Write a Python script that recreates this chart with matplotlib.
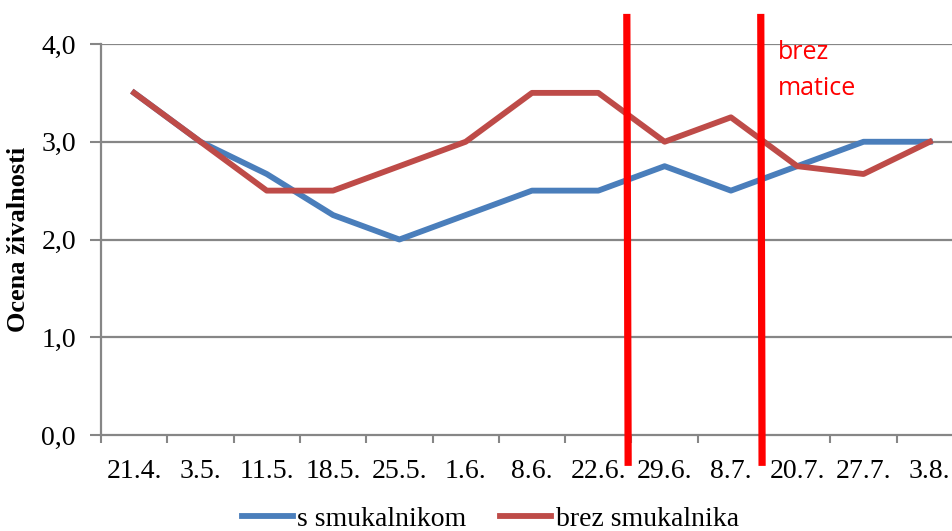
import matplotlib
matplotlib.use('agg')
import matplotlib.pyplot as plt
import matplotlib.transforms as mtransforms

# data
dates = ['21.4.', '3.5.', '11.5.', '18.5.', '25.5.', '1.6.', '8.6.',
         '22.6.', '29.6.', '8.7.', '20.7.', '27.7.', '3.8.']
s_smukalnikom = [3.5, 3.0, 2.67, 2.25, 2.0, 2.25, 2.5, 2.5, 2.75, 2.5, 2.75, 3.0, 3.0]
brez_smukalnika = [3.5, 3.0, 2.5, 2.5, 2.75, 3.0, 3.5, 3.5, 3.0, 3.25, 2.75, 2.67, 3.0]
y_ticks = [0.0, 1.0, 2.0, 3.0, 4.0]
y_labels = ['0,0', '1,0', '2,0', '3,0', '4,0']
marker_x = [7.43, 9.45]

fig = plt.figure(figsize=(9.52, 5.31), dpi=100)
ax = fig.add_axes([101 / 952, 1 - 435 / 531, 862 / 952, 391 / 531])

serif = 'Liberation Serif'
grid_col = '#868686'

x = list(range(len(dates)))
ax.plot(x, s_smukalnikom, color='#4A7EBB', lw=4.2, label='s smukalnikom',
        solid_joinstyle='round', zorder=3)
ax.plot(x, brez_smukalnika, color='#BE4B48', lw=4.2, label='brez smukalnika',
        solid_joinstyle='round', zorder=3)

ax.set_xlim(-0.5, len(dates) - 0.5)
ax.set_ylim(0, 4)
ax.set_yticks(y_ticks)
ax.set_yticklabels(y_labels, fontfamily=serif, fontsize=20)
ax.set_xticks(x)
ax.set_xticklabels(dates, fontfamily=serif, fontsize=20)
ax.set_xticks([i - 0.5 for i in range(len(dates) + 1)], minor=True)
ax.tick_params(axis='x', which='major', length=0, pad=17)
ax.tick_params(axis='x', which='minor', length=6, width=1.5, color=grid_col, direction='out')
ax.tick_params(axis='y', length=8, width=1.5, color=grid_col, pad=10)

for y in y_ticks[1:]:
    ax.axhline(y, color=grid_col, lw=1.6, zorder=1)
for side in ['top', 'right']:
    ax.spines[side].set_visible(False)
for side in ['left', 'bottom']:
    ax.spines[side].set_color(grid_col)
    ax.spines[side].set_linewidth(1.6)

ax.set_ylabel('Ocena živalnosti', fontfamily=serif, fontsize=19, fontweight='bold', labelpad=8)

trans = mtransforms.blended_transform_factory(ax.transData, ax.transAxes)
for mx in marker_x:
    ax.plot([mx, mx + 0.02], [1.077, -0.079], color='#FF0000', lw=5.2,
            transform=trans, clip_on=False, zorder=4, solid_capstyle='butt')
ax.text(9.71, 1.01, 'brez\nmatice', color='#FF0000', fontsize=18,
        fontfamily='Open Sans', transform=trans, va='top', ha='left', linespacing=1.55)

leg = fig.legend(loc='center', bbox_to_anchor=(0.515, 1 - 519 / 531), ncol=2,
                 frameon=False, prop={'family': serif, 'size': 20},
                 handlelength=1.85, handletextpad=0.15, columnspacing=1.2)

fig.savefig('out.png', dpi=100)
